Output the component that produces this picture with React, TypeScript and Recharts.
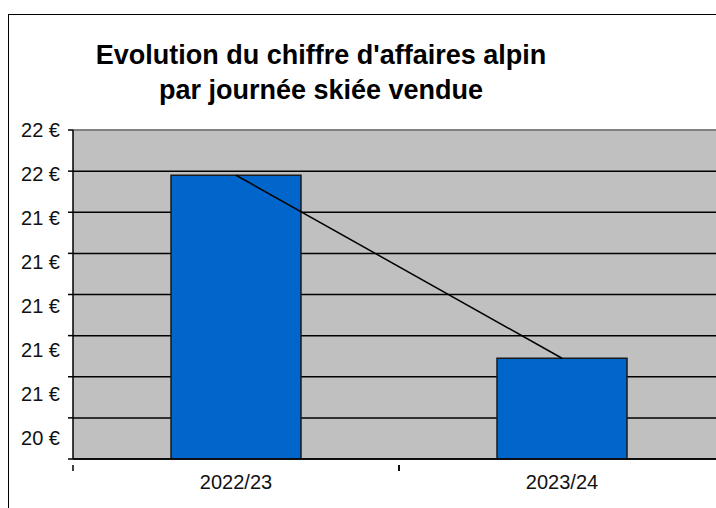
import {
  ComposedChart,
  Bar,
  Line,
  XAxis,
  YAxis,
  CartesianGrid,
  ReferenceLine,
} from "recharts";

const seasons = ["2022/23", "2023/24"];
const revenuePerDay = [21.58, 20.69];
const yTicks = [20.2, 20.4, 20.6, 20.8, 21.0, 21.2, 21.4, 21.6, 21.8];
const yLabels = ["", "20 €", "21 €", "21 €", "21 €", "21 €", "21 €", "22 €", "22 €"];

const data = seasons.map((s, i) => ({ season: s, value: revenuePerDay[i] }));

const FONT = "'Liberation Sans', Arial, sans-serif";
const PLOT_TOP = 115;

function XTick({ x, y, payload }: any) {
  const half = payload.offset || 0;
  return (
    <g>
      <line x1={x - half} y1={y - 2} x2={x - half} y2={y + 4} stroke="#000" strokeWidth={1.5} />
      <line x1={x + half} y1={y - 2} x2={x + half} y2={y + 4} stroke="#000" strokeWidth={1.5} />
      <text x={x} y={y + 22} textAnchor="middle" fontSize={20} fontFamily={FONT} fill="#111">
        {payload.value}
      </text>
    </g>
  );
}

// labels spread a little wider than the gridlines, as in the original export
function YTick({ x, y, payload }: any) {
  const idx = yTicks.indexOf(payload.value);
  const ly = PLOT_TOP + (y - PLOT_TOP) * 1.07;
  return (
    <text x={x - 6} y={ly} dy={7} textAnchor="end" fontSize={20} fontFamily={FONT} fill="#111">
      {yLabels[idx]}
    </text>
  );
}

export default function App() {
  return (
    <div style={{ position: "absolute", left: 8, top: 14, width: 708, height: 494, overflow: "hidden" }}>
      <div
        style={{
          width: 760,
          height: 520,
          borderLeft: "1.5px solid #000",
          borderTop: "1.5px solid #000",
          background: "#fff",
          position: "relative",
        }}
      >
        <svg width={708} height={110} style={{ position: "absolute", left: 0, top: 0 }}>
          <text x={312} y={49} textAnchor="middle" fontSize={27} fontWeight="bold" fontFamily={FONT} fill="#000">
            Evolution du chiffre d'affaires alpin
          </text>
          <text x={312} y={84} textAnchor="middle" fontSize={27} fontWeight="bold" fontFamily={FONT} fill="#000">
            par journée skiée vendue
          </text>
        </svg>
        <ComposedChart
          width={760}
          height={500}
          data={data}
          margin={{ top: PLOT_TOP, right: 44, left: 0, bottom: 16 }}
        >
          <CartesianGrid vertical={false} stroke="#000" strokeWidth={1.5} fill="#C0C0C0" fillOpacity={1} />
          <ReferenceLine y={21.8} stroke="#9a9a9a" strokeWidth={1.5} ifOverflow="extendDomain" />
          <XAxis
            dataKey="season"
            axisLine={{ stroke: "#000", strokeWidth: 1.5 }}
            tickLine={false}
            tick={<XTick />}
            height={40}
            interval={0}
          />
          <YAxis
            domain={[20.2, 21.8]}
            ticks={yTicks}
            width={64}
            axisLine={{ stroke: "#000", strokeWidth: 1.5 }}
            tickLine={{ stroke: "#000", strokeWidth: 1.5 }}
            tickSize={5}
            tick={<YTick />}
            interval={0}
            allowDataOverflow
          />
          <Bar dataKey="value" fill="#0066CC" stroke="#1a1a1a" strokeWidth={1.5} barSize={130} isAnimationActive={false} />
          <Line type="linear" dataKey="value" stroke="#000" strokeWidth={1.5} dot={false} isAnimationActive={false} />
        </ComposedChart>
      </div>
    </div>
  );
}
